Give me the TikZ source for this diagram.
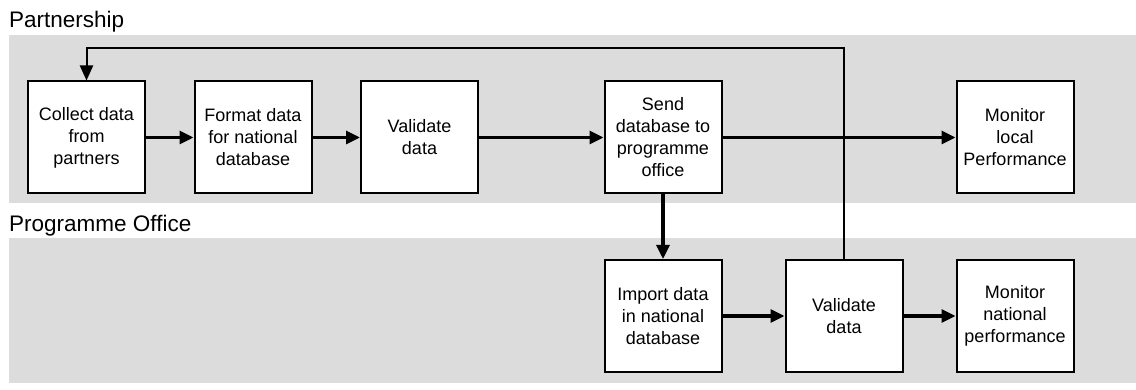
\documentclass[tikz,border=0pt]{standalone}
\usepackage{fontspec}
\setmainfont{Liberation Sans}
\usetikzlibrary{arrows.meta}

\definecolor{lanegray}{RGB}{220,220,220}
\tikzstyle{step box}=[draw,line width=2pt,fill=white,minimum width=117pt,minimum height=112pt,inner sep=2pt,align=center,font=\fontsize{18}{22}\selectfont]
\tikzstyle{flow} = [draw,line width=3.2pt,-{Triangle[length=14pt,width=13pt]}]
\tikzstyle{back flow} = [draw,line width=2pt,-{Triangle[length=15pt,width=13pt]}]
\tikzstyle{lane} = [fill=lanegray]
\tikzstyle{lane label} = [anchor=base west,inner sep=0pt,font=\fontsize{22.5}{26}\selectfont]

\begin{document}
\begin{tikzpicture}[x=1pt, y=-1pt]
    \useasboundingbox (0,0) rectangle (1136,390);
    % First the two lanes and their titles
    \path[lane] (9,35) rectangle (1136,203);
    \path[lane] (9,238) rectangle (1136,383);
    \node[lane label] (partnership) at (9,28) {Partnership};
    \node[lane label] (office) at (9,232) {Programme Office};
    % Then the steps
    \foreach \pos/\name/\text in {{(86.5,137.5)/collect/{Collect data\\from\\partners}},
        {(253,137.5)/format/{Format data\\for national\\database}},
        {(419.5,137.5)/validate/{Validate\\data}},
        {(663,137.5)/send/{Send\\database to\\programme\\office}},
        {(1015,137.5)/local/{Monitor\\local\\Performance}},
        {(663,316)/import/{Import data\\in national\\database}},
        {(844,316)/check/{Validate\\data}},
        {(1015,316)/national/{Monitor\\national\\performance}}}
        \node[step box] (\name) at \pos {\text};
    % Connect the steps
    \foreach \source/\dest in {collect/format,format/validate,validate/send,send/local,send/import,import/check,check/national}
        \path[flow] (\source) -- (\dest);
    % Feedback from the national check to the partners
    \coordinate (turn) at (844,48);
    \path[back flow] (check.north) -- (turn) -| (collect.north);
\end{tikzpicture}
\end{document}
